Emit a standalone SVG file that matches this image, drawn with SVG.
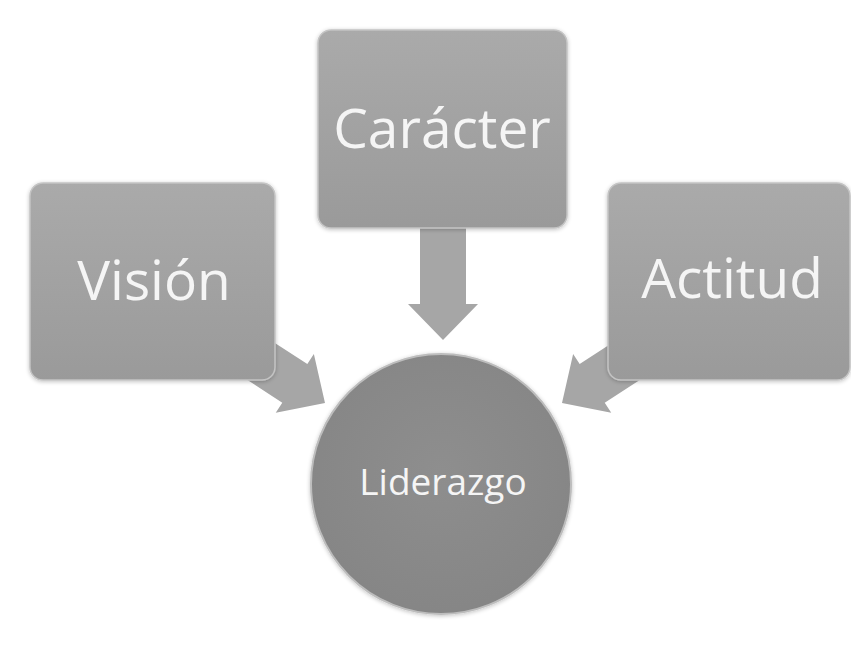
<svg xmlns="http://www.w3.org/2000/svg" width="851" height="648" viewBox="0 0 851 648">
<defs>
<linearGradient id="boxg" x1="0" y1="0" x2="0" y2="1">
<stop offset="0" stop-color="#aaaaaa"/>
<stop offset="1" stop-color="#9a9a9a"/>
</linearGradient>
<radialGradient id="circg" cx="0.5" cy="0.45" r="0.6">
<stop offset="0" stop-color="#8e8e8e"/>
<stop offset="1" stop-color="#858585"/>
</radialGradient>
<filter id="sh" x="-10%" y="-10%" width="120%" height="120%">
<feGaussianBlur in="SourceAlpha" stdDeviation="2"/>
<feOffset dx="0" dy="1" result="b"/>
<feComponentTransfer><feFuncA type="linear" slope="0.25"/></feComponentTransfer>
<feMerge><feMergeNode/><feMergeNode in="SourceGraphic"/></feMerge>
</filter>
</defs>
<style>
.box{fill:url(#boxg);stroke:#c4c4c4;stroke-width:1.5;filter:url(#sh)}
.arrow{fill:#a6a6a6}
.lbl{font-family:"Open Sans","Noto Sans",sans-serif;fill:#f5f5f5;text-anchor:middle;font-size:55px}
.lbl2{font-family:"Open Sans","Noto Sans",sans-serif;fill:#f5f5f5;text-anchor:middle;font-size:37px}
</style>
<rect width="851" height="648" fill="#ffffff"/>
<g id="connectors">
<polygon class="arrow" points="0,0 -36,-35 -36,-23 -120,-23 -120,23 -36,23 -36,35" transform="translate(325,403) rotate(33)"/>
<polygon class="arrow" points="0,0 -36,-35 -36,-23 -120,-23 -120,23 -36,23 -36,35" transform="translate(443,340) rotate(90)"/>
<polygon class="arrow" points="0,0 -36,-35 -36,-23 -120,-23 -120,23 -36,23 -36,35" transform="translate(562,403) rotate(147)"/>
</g>
<g id="vision">
<rect class="box" x="30" y="183" width="245" height="197" rx="13"/>
<text class="lbl" x="154" y="300">Visión</text>
</g>
<g id="caracter">
<rect class="box" x="318" y="30" width="249" height="198" rx="13"/>
<text class="lbl" x="442" y="148">Carácter</text>
</g>
<g id="actitud">
<rect class="box" x="608" y="183" width="242" height="197" rx="13"/>
<text class="lbl" x="732" y="298">Actitud</text>
</g>
<g id="liderazgo">
<circle cx="441" cy="484" r="130" fill="url(#circg)" stroke="#bdbdbd" stroke-width="2" filter="url(#sh)"/>
<text class="lbl2" x="443" y="495">Liderazgo</text>
</g>
</svg>
